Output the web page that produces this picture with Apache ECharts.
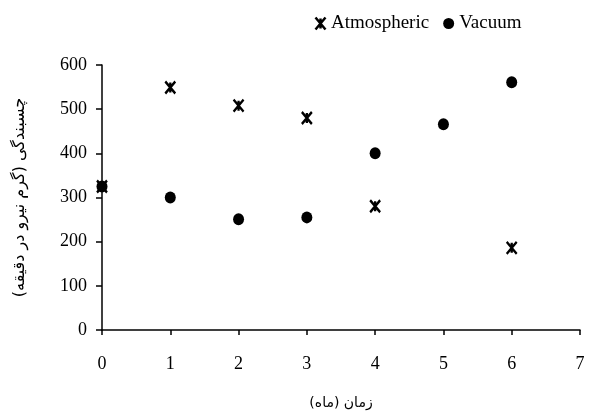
<!DOCTYPE html>
<html><head><meta charset="utf-8">
<script src="https://cdn.jsdelivr.net/npm/echarts@6/dist/echarts.min.js"></script>
<style>html,body{margin:0;padding:0;background:#fff}#c{width:591px;height:419px}</style>
</head><body><div id="c"></div>
<script>
const months = [0, 1, 2, 3, 4, 5, 6];
const atmosphericX = [0, 1, 2, 3, 4, 6];
const atmosphericY = [325, 549, 508, 480, 280, 186];
const vacuumX = [0, 1, 2, 3, 4, 5, 6];
const vacuumY = [325, 300, 251, 255, 400, 466, 561];
const yTicks = [0, 100, 200, 300, 400, 500, 600];
const xTicks = [0, 1, 2, 3, 4, 5, 6, 7];

const starPath = 'path://M0,0 L10,12 M10,0 L0,12 M5,1 L5,11';
const serif = '"Liberation Serif", "Times New Roman", serif';

const chart = echarts.init(document.getElementById('c'));
chart.setOption({
  animation: false,
  backgroundColor: '#fff',
  grid: { left: 102, right: 11, top: 65, bottom: 89 },
  legend: {
    top: 9, left: 308,
    itemGap: 14, itemWidth: 11, itemHeight: 12,
    textStyle: { fontFamily: serif, fontSize: 19, color: '#000' },
    data: [
      { name: 'Atmospheric', icon: starPath, itemStyle: { color: 'none', borderColor: '#000', borderWidth: 2.5, opacity: 1 } },
      { name: 'Vacuum', icon: 'circle', itemStyle: { color: '#000', opacity: 1 } }
    ]
  },
  xAxis: {
    type: 'value', min: 0, max: 7, interval: 1,
    name: 'زمان (ماه)', nameLocation: 'middle', nameGap: 66,
    nameTextStyle: { fontFamily: '"DejaVu Sans"', fontSize: 14, color: '#000' },
    axisLine: { onZero: false, lineStyle: { color: '#000', width: 1.5 } },
    axisTick: { show: true, length: 5, lineStyle: { color: '#000', width: 1.5 } },
    axisLabel: { margin: 25, fontFamily: serif, fontSize: 18, color: '#000',
      formatter: v => xTicks.includes(v) ? String(v) : '' },
    splitLine: { show: false }
  },
  yAxis: {
    type: 'value', min: 0, max: 600, interval: 100,
    name: 'چسبندگی (گرم نیرو در دقیقه)', nameLocation: 'middle', nameGap: 74, nameRotate: 90,
    nameTextStyle: { fontFamily: '"DejaVu Sans"', fontSize: 16, color: '#000' },
    axisLine: { show: true, lineStyle: { color: '#000', width: 1.5 } },
    axisTick: { show: true, length: 6, lineStyle: { color: '#000', width: 1.5 } },
    axisLabel: { margin: 15, fontFamily: serif, fontSize: 18, color: '#000',
      formatter: v => yTicks.includes(v) ? String(v) : '' },
    splitLine: { show: false }
  },
  series: [
    {
      name: 'Atmospheric', type: 'scatter', symbol: starPath, symbolSize: [10, 12],
      itemStyle: { color: 'none', borderColor: '#000', borderWidth: 2.5, opacity: 1 },
      data: atmosphericX.map((x, i) => [x, atmosphericY[i]]), z: 3
    },
    {
      name: 'Vacuum', type: 'scatter', symbol: 'circle', symbolSize: [11, 12],
      itemStyle: { color: '#000', opacity: 1 },
      data: vacuumX.map((x, i) => [x, vacuumY[i]]), z: 2
    }
  ]
});
</script></body></html>
